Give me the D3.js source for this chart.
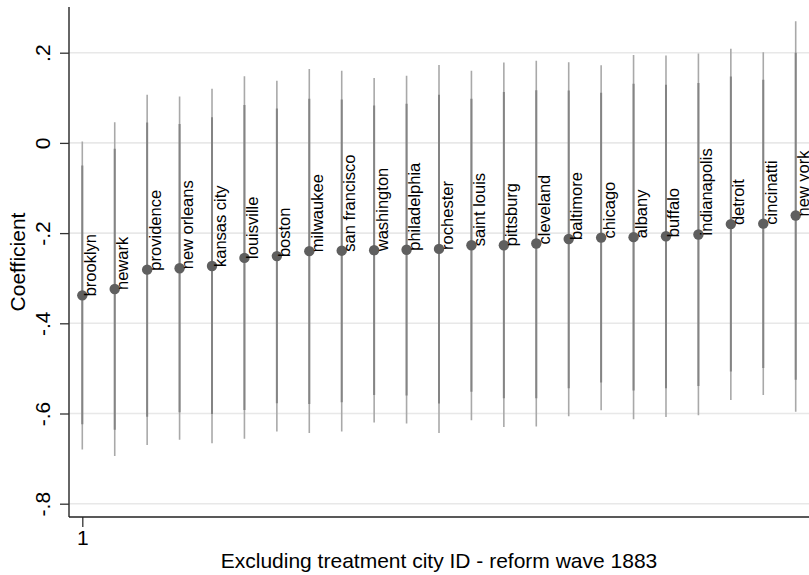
<!DOCTYPE html>
<html>
<head>
<meta charset="utf-8">
<script src="https://cdn.jsdelivr.net/npm/d3@7"></script>
<style>
  html, body { margin: 0; padding: 0; background: #fff; }
  svg { display: block; font-family: "Liberation Sans", Arial, sans-serif; }
</style>
</head>
<body>
<svg id="chart" width="809" height="575"></svg>
<script>
// ---- data ----
const cities = ["brooklyn","newark","providence","new orleans","kansas city","louisville","boston","milwaukee","san francisco","washington","philadelphia","rochester","saint louis","pittsburg","cleveland","baltimore","chicago","albany","buffalo","indianapolis","detroit","cincinatti","new york"];
const coef     = [-0.338,-0.324,-0.281,-0.278,-0.273,-0.255,-0.251,-0.240,-0.239,-0.238,-0.237,-0.235,-0.227,-0.227,-0.223,-0.213,-0.210,-0.209,-0.207,-0.203,-0.180,-0.179,-0.161];
const outerHi  = [0.003,0.046,0.107,0.103,0.120,0.148,0.138,0.164,0.160,0.144,0.149,0.173,0.160,0.178,0.182,0.179,0.172,0.195,0.194,0.198,0.209,0.201,0.270];
const outerLo  = [-0.680,-0.694,-0.670,-0.658,-0.666,-0.656,-0.640,-0.643,-0.640,-0.620,-0.622,-0.643,-0.615,-0.630,-0.629,-0.606,-0.593,-0.613,-0.608,-0.604,-0.570,-0.559,-0.596];
const innerHi  = [-0.050,-0.013,0.045,0.042,0.057,0.084,0.076,0.098,0.096,0.083,0.087,0.107,0.098,0.113,0.117,0.116,0.111,0.131,0.129,0.133,0.147,0.140,0.200];
const innerLo  = [-0.624,-0.636,-0.607,-0.597,-0.601,-0.592,-0.577,-0.579,-0.575,-0.559,-0.560,-0.578,-0.552,-0.566,-0.566,-0.544,-0.531,-0.549,-0.544,-0.539,-0.507,-0.499,-0.525];
const yTicks = [0.2, 0, -0.2, -0.4, -0.6, -0.8];
const yTickLabels = [".2", "0", "-.2", "-.4", "-.6", "-.8"];
const xTicks = [1];
const xTickLabels = ["1"];
const yTitle = "Coefficient";
const xTitle = "Excluding treatment city ID - reform wave 1883";

const data = cities.map((c, i) => ({
  city: c, idx: i + 1, coef: coef[i],
  oHi: outerHi[i], oLo: outerLo[i], iHi: innerHi[i], iLo: innerLo[i]
}));

// ---- layout ----
const svg = d3.select("#chart");
const plotLeft = 69, plotRight = 809, plotTop = 7, plotBottom = 517;

const x = d3.scaleLinear().domain([1, 23]).range([82.3, 795.7]);
const y = d3.scaleLinear().domain([-0.8, 0.2]).range([503.7, 52.7]);

// gridlines
svg.append("g").selectAll("line").data(yTicks).join("line")
  .attr("x1", plotLeft).attr("x2", plotRight)
  .attr("y1", d => y(d)).attr("y2", d => y(d))
  .attr("stroke", "#e8e8e8").attr("stroke-width", 1.6);

// outer CI
svg.append("g").selectAll("line").data(data).join("line")
  .attr("x1", d => x(d.idx)).attr("x2", d => x(d.idx))
  .attr("y1", d => y(d.oHi)).attr("y2", d => y(d.oLo))
  .attr("stroke", "#a9a9a9").attr("stroke-width", 1.6);

// inner CI
svg.append("g").selectAll("line").data(data).join("line")
  .attr("x1", d => x(d.idx)).attr("x2", d => x(d.idx))
  .attr("y1", d => y(d.iHi)).attr("y2", d => y(d.iLo))
  .attr("stroke", "#848484").attr("stroke-width", 2);

// points
svg.append("g").selectAll("circle").data(data).join("circle")
  .attr("cx", d => x(d.idx)).attr("cy", d => y(d.coef))
  .attr("r", 5.2).attr("fill", "#5f5f5f");

// point labels
svg.append("g").selectAll("text").data(data).join("text")
  .attr("transform", d => `translate(${x(d.idx) + 13.5},${y(d.coef) + 1}) rotate(-90)`)
  .attr("text-anchor", "start")
  .attr("font-size", 16.5)
  .attr("fill", "#000")
  .text(d => d.city);

// y axis
const yAxis = d3.axisLeft(y).tickValues(yTicks)
  .tickFormat((d, i) => yTickLabels[i]).tickSize(9).tickSizeOuter(0);
const gy = svg.append("g").attr("transform", `translate(${plotLeft},0)`).call(yAxis);
gy.select(".domain").remove();
gy.selectAll(".tick line").attr("stroke", "#333").attr("stroke-width", 1.3);
gy.selectAll(".tick text")
  .attr("x", null).attr("dy", null)
  .attr("transform", "translate(-19,0) rotate(-90)")
  .attr("text-anchor", "middle")
  .attr("font-size", 21)
  .attr("font-family", "Liberation Sans, Arial, sans-serif")
  .attr("fill", "#000");
svg.append("line")
  .attr("x1", plotLeft).attr("x2", plotLeft)
  .attr("y1", plotTop).attr("y2", plotBottom)
  .attr("stroke", "#333").attr("stroke-width", 1.5);

// x axis
const xAxis = d3.axisBottom(x).tickValues(xTicks)
  .tickFormat((d, i) => xTickLabels[i]).tickSize(10).tickSizeOuter(0);
const gx = svg.append("g").attr("transform", `translate(0,${plotBottom})`).call(xAxis);
gx.select(".domain").remove();
gx.selectAll(".tick line").attr("stroke", "#333").attr("stroke-width", 1.3);
gx.selectAll(".tick text")
  .attr("y", 28).attr("dy", null)
  .attr("font-size", 21)
  .attr("font-family", "Liberation Sans, Arial, sans-serif")
  .attr("fill", "#000");
svg.append("line")
  .attr("x1", plotLeft).attr("x2", plotRight)
  .attr("y1", plotBottom).attr("y2", plotBottom)
  .attr("stroke", "#222").attr("stroke-width", 1.5);

// titles
svg.append("text")
  .attr("transform", `translate(25,${(plotTop + plotBottom) / 2}) rotate(-90)`)
  .attr("text-anchor", "middle").attr("font-size", 21).attr("fill", "#000")
  .text(yTitle);
svg.append("text")
  .attr("x", (plotLeft + plotRight) / 2).attr("y", 568)
  .attr("text-anchor", "middle").attr("font-size", 21).attr("fill", "#000")
  .text(xTitle);
</script>
</body>
</html>
